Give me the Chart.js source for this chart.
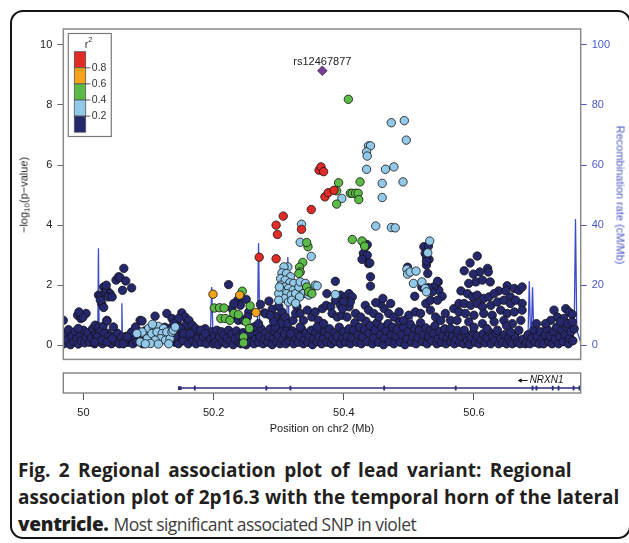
<!DOCTYPE html>
<html>
<head>
<meta charset="utf-8">
<script src="https://cdn.jsdelivr.net/npm/chart.js@4.4.1/dist/chart.umd.min.js"></script>
<style>
  body{margin:0;width:629px;height:543px;background:#fff;position:relative;overflow:hidden;font-family:"Liberation Sans",Arial,sans-serif}
  .frame{position:absolute;left:10px;top:10px;width:617px;height:525px;border:2.5px solid #141414;border-radius:13px}
  #main{position:absolute;left:0;top:0}
  #gene{position:absolute;left:0;top:362px}
  .ytitle{position:absolute;white-space:nowrap;font-size:11px;line-height:13px}
  .ytitle sub{font-size:8px;vertical-align:-2px;line-height:0}
  .left{left:24px;top:195px;color:#222;transform:translate(-50%,-50%) rotate(-90deg)}
  .right{left:620px;top:195px;color:#4b58c6;transform:translate(-50%,-50%) rotate(90deg)}
  .cap{position:absolute;left:18px;font-family:"Open Sans",sans-serif;font-size:19px;line-height:27px;white-space:nowrap;color:#231f20;font-weight:700}
  .l1{top:457px;word-spacing:3.5px}
  .l2{top:484px;word-spacing:0.5px}
  .l3{top:511px}
  .l3 b{letter-spacing:-0.3px}
  .cap span{font-weight:400;color:#3d3d3d;font-size:17.5px;letter-spacing:-0.55px}
</style>
</head>
<body>
<div class="frame"></div>
<canvas id="main" width="629" height="365"></canvas>
<canvas id="gene" width="629" height="78"></canvas>
<div class="ytitle left">&minus;log<sub>10</sub>(p&minus;value)</div>
<div class="ytitle right">Recombination rate (cM/Mb)</div>
<div class="cap l1">Fig. 2 Regional association plot of lead variant: Regional</div>
<div class="cap l2">association plot of 2p16.3 with the temporal horn of the lateral</div>
<div class="cap l3"><b>ventricle.</b> <span>Most significant associated SNP in violet</span></div>
<script>
// axis ranges / ticks
const xMin = 49.969, xMax = 50.764;
const xTicks = [50, 50.2, 50.4, 50.6];
const xTickLabels = ['50', '50.2', '50.4', '50.6'];
const yTicks = [0, 2, 4, 6, 8, 10];
const recombTicks = [0, 20, 40, 60, 80, 100];
const r2Breaks = ['0.8', '0.6', '0.4', '0.2'];

// lead SNP [Mb, -log10 p]
const leadName = 'rs12467877';
const leadSnp = [[50.367, 9.14]];

// r2 0.8-1
const r2Red = [[50.270,2.93],[50.296,2.88],[50.298,3.69],[50.296,4.0],[50.307,4.3],[50.335,3.86],[50.350,4.52],
  [50.362,5.83],[50.365,5.94],[50.369,5.78],[50.371,4.94],[50.376,5.08],[50.385,5.16]];

// r2 0.6-0.8
const r2Orange = [[50.199,1.7],[50.240,1.67],[50.265,1.09]];

// r2 0.4-0.6
const r2Green = [[50.407,8.19],
  [50.392,5.41],[50.389,5.14],[50.389,4.7],[50.425,5.44],[50.410,5.06],[50.413,5.06],[50.418,5.06],[50.422,5.06],[50.423,4.85],
  [50.413,3.52],[50.428,3.47],[50.432,3.3],
  [50.345,3.28],[50.343,3.42],[50.337,2.76],[50.332,2.6],[50.333,2.44],[50.331,2.39],[50.343,1.94],[50.346,1.78],[50.351,1.72],
  [50.201,1.24],[50.209,1.25],[50.216,1.24],[50.211,0.89],[50.218,0.89],[50.225,0.83],[50.231,1.06],[50.238,1.02],
  [50.244,1.8],[50.256,1.31],[50.250,0.78],[50.255,0.56],[50.246,0.28],[50.246,0.08]];

// r2 0.2-0.4
const r2Blue = [[50.473,7.41],[50.493,7.48],[50.496,6.83],[50.438,6.64],[50.441,6.64],[50.435,6.44],[50.436,6.3],[50.435,5.86],
  [50.464,5.86],[50.477,5.94],[50.459,5.39],[50.491,5.44],[50.459,4.92],[50.397,4.89],[50.449,3.97],[50.473,3.92],[50.479,3.91],
  [50.335,4.03],[50.333,3.43],[50.350,2.96],
  [50.532,3.47],[50.529,3.08],[50.497,2.53],[50.498,2.37],[50.502,2.44],[50.511,2.47],[50.507,2.06],[50.520,2.11],[50.525,1.89],[50.527,1.78],
  [50.387,1.69],
  [50.314,2.61],[50.308,2.61],[50.305,2.41],[50.312,2.39],[50.318,2.28],[50.303,2.22],[50.310,2.17],[50.317,2.08],[50.323,2.06],
  [50.303,2.0],[50.309,1.94],[50.315,1.89],[50.322,1.83],[50.305,1.78],[50.312,1.72],[50.319,1.67],[50.326,1.72],[50.308,1.56],
  [50.315,1.44],[50.331,1.94],[50.333,2.11],[50.341,2.06],[50.349,1.83],[50.356,2.0],[50.359,1.98],[50.338,1.72],[50.346,1.67],
  [50.332,1.61],[50.300,1.72],[50.301,1.94],[50.300,1.5],[50.320,1.5],[50.326,1.4],
  [50.092,0.39],[50.100,0.56],[50.108,0.61],[50.115,0.63],[50.123,0.56],[50.098,0.22],[50.105,0.39],[50.113,0.44],[50.121,0.39],
  [50.128,0.44],[50.118,0.22],[50.110,0.17],[50.126,0.17],[50.133,0.22],[50.103,0.06],[50.087,0.11],[50.136,0.44],[50.095,0.05],
  [50.115,0.04],[50.131,0.05],[50.106,0.7],[50.090,0.44],[50.082,0.39],[50.138,0.5],[50.141,0.61]];

// r2 < 0.2 : upper / middle points
const r2NavyUpper = [[49.969,0.83],[49.991,1.0],[49.996,0.89],[50.004,1.06],[49.999,0.93],[49.993,1.11],[49.992,0.56],
  [50.018,0.67],[50.023,0.61],[50.030,0.63],[50.036,0.83],[50.046,0.61],[50.025,0.44],[50.032,0.39],[50.038,0.28],[50.021,0.28],
  [50.028,0.17],[50.036,0.11],[50.044,0.22],[50.017,0.1],
  [50.023,1.67],[50.026,1.61],[50.031,1.94],[50.033,1.78],[50.036,1.83],[50.041,1.72],[50.038,1.61],[50.028,1.39],[50.031,1.26],
  [50.026,1.5],[50.035,2.0],[50.044,1.61],[50.036,0.81],
  [50.050,2.17],[50.054,2.28],[50.056,2.26],[50.062,2.56],[50.065,2.14],[50.060,1.83],[50.074,1.91],
  [50.059,0.28],[50.064,0.17],[50.061,0.05],
  [50.074,0.44],[50.080,0.61],[50.087,0.83],[50.090,0.81],[50.067,0.28],[50.110,0.97],[50.128,1.06],[50.136,0.89],[50.151,1.08],
  [50.156,0.94],[50.162,0.83],[50.167,0.67],[50.172,0.56],[50.144,0.72],[50.149,0.56],[50.154,0.39],[50.180,0.5],[50.187,0.39],
  [50.146,0.89],[50.139,0.72],[50.164,0.39],[50.141,0.28],
  [50.223,2.02],[50.250,1.53],[50.272,1.36],[50.285,1.47],[50.278,1.08],[50.254,1.11],[50.237,1.5],[50.241,1.33],[50.228,1.22],
  [50.231,0.94],[50.238,0.83],[50.246,0.83],[50.252,0.94],[50.262,0.61],[50.269,0.72],[50.255,0.39],[50.231,1.39],
  [50.298,0.94],[50.305,1.11],[50.310,0.94],[50.303,0.72],[50.314,0.72],[50.322,0.83],[50.328,1.28],[50.326,1.06],[50.333,1.06],
  [50.338,0.83],[50.344,1.17],[50.351,0.94],[50.356,1.11],[50.361,0.83],[50.367,1.22],[50.373,1.33],[50.380,1.28],[50.387,1.5],
  [50.395,1.33],[50.403,1.5],[50.408,1.28],[50.374,1.72],[50.387,2.13],[50.382,1.06],[50.390,0.94],[50.397,1.0],[50.405,0.94],
  [50.359,0.61],[50.369,0.72],[50.333,0.61],[50.318,0.39],[50.295,0.61],[50.280,1.05],
  [50.290,1.2],[50.295,0.95],[50.300,1.3],[50.292,0.8],[50.287,1.0],
  [50.395,1.67],[50.403,1.61],[50.408,1.72],[50.413,1.61],[50.410,1.44],[50.400,1.44],[50.398,1.22],[50.418,1.06],[50.426,0.94],
  [50.433,1.33],[50.438,1.17],[50.446,1.06],[50.454,0.94],[50.462,1.22],[50.456,1.39],[50.449,1.42],[50.460,1.56],[50.472,1.39],
  [50.469,1.06],[50.477,0.94],[50.485,1.11],[50.492,0.83],[50.500,1.0],[50.509,1.63],[50.510,1.11],[50.518,1.06],[50.526,1.39],
  [50.533,1.17],[50.541,0.94],[50.549,0.83],[50.556,1.06],[50.564,0.83],[50.569,1.22],[50.577,1.39],[50.574,0.5],
  [50.433,3.28],[50.430,3.06],[50.436,3.0],[50.428,2.86],[50.438,2.72],[50.441,2.28],[50.441,1.97],[50.431,3.39],[50.436,3.35],[50.440,2.74],
  [50.523,3.28],[50.525,3.06],[50.531,2.86],[50.527,2.67],[50.529,2.39],[50.545,2.11],[50.546,1.83],[50.551,1.63],[50.538,1.94],
  [50.536,1.78],[50.533,1.5],[50.544,1.5],[50.530,3.3],[50.527,2.94],[50.527,2.8],[50.498,2.6],[50.520,1.93],[50.530,1.92],[50.544,2.13],
  [50.605,2.97],[50.594,2.74],[50.585,2.48],[50.621,2.56],[50.622,2.44],[50.609,2.44],[50.599,2.37],[50.603,2.11],[50.613,2.17],
  [50.625,2.11],[50.592,2.06],[50.580,1.81],[50.651,1.98],[50.662,1.89],[50.638,1.81],[50.669,1.83],[50.674,1.94],[50.649,1.81],[50.656,1.61],
  [50.590,1.72],[50.598,1.61],[50.605,1.67],[50.615,1.56],[50.623,1.61],[50.631,1.72],[50.585,1.39],[50.595,1.33],[50.605,1.39],
  [50.613,1.28],[50.626,1.33],[50.636,1.44],[50.646,1.5],[50.656,1.39],[50.664,1.5],[50.674,1.39],[50.577,1.11],[50.587,1.06],
  [50.600,1.0],[50.615,1.06],[50.628,1.0],[50.641,1.17],[50.651,1.06],[50.662,1.11],[50.674,1.17],[50.574,0.83],[50.592,0.78],
  [50.613,0.72],[50.631,0.78],[50.646,0.83],[50.659,0.72],[50.672,0.83],[50.564,0.56],[50.585,0.5],[50.636,0.5],[50.656,0.44],
  [50.669,0.5],[50.600,0.6],[50.620,0.55],[50.650,0.65],
  [50.723,1.17],[50.741,1.22],[50.746,1.11],[50.751,1.03],[50.728,0.94],[50.738,0.89],[50.718,0.83],[50.696,0.72],[50.710,0.72],
  [50.733,0.78],[50.744,0.72],[50.751,0.78]];

// r2 < 0.2 : dense band near zero
const r2NavyBase = [[49.970,0.05],[49.971,0.38],[49.975,0.18],[49.977,0.52],[49.980,0.02],[49.982,0.3],[49.985,0.12],[49.987,0.45],
  [49.990,0.22],[49.992,0.04],[49.995,0.35],[49.997,0.15],[50.000,0.5],[50.002,0.08],[50.004,0.28],[50.007,0.42],[50.009,0.1],
  [50.012,0.25],[50.014,0.55],[50.017,0.05],[50.019,0.35],[50.021,0.15],[50.024,0.45],[50.026,0.2],
  [50.029,0.05],[50.031,0.3],[50.034,0.12],[50.037,0.4],[50.040,0.2],[50.043,0.05],[50.046,0.3],[50.049,0.12],[50.052,0.4],
  [50.055,0.05],[50.063,0.08],[50.066,0.3],[50.069,0.1],[50.072,0.22],
  [50.076,0.05],[50.079,0.3],[50.082,0.12],[50.085,0.45],[50.088,0.2],[50.091,0.05],[50.096,0.5],[50.101,0.3],[50.107,0.45],
  [50.112,0.55],[50.119,0.5],[50.125,0.6],[50.131,0.55],[50.138,0.3],[50.141,0.1],[50.144,0.45],
  [50.146,0.05],[50.148,0.3],[50.151,0.55],[50.153,0.15],[50.156,0.4],[50.158,0.7],[50.161,0.05],[50.163,0.3],[50.166,0.5],
  [50.168,0.15],[50.171,0.35],[50.173,0.05],[50.176,0.25],[50.179,0.45],[50.181,0.1],[50.184,0.3],[50.187,0.55],[50.189,0.05],
  [50.192,0.35],[50.195,0.2],[50.197,0.45],[50.199,0.05],
  [50.201,0.3],[50.203,0.1],[50.205,0.5],[50.207,0.02],[50.209,0.28],[50.212,0.45],[50.214,0.12],[50.216,0.35],[50.219,0.05],
  [50.221,0.25],[50.223,0.5],[50.226,0.15],[50.228,0.38],[50.230,0.02],[50.233,0.22],[50.235,0.48],[50.238,0.1],[50.240,0.32],
  [50.242,0.05],[50.245,0.42],[50.247,0.18],[50.250,0.02],[50.252,0.3],[50.255,0.5],[50.257,0.12],[50.259,0.35],[50.262,0.05],
  [50.264,0.25],[50.266,0.45],[50.269,0.1],
  [50.271,0.3],[50.273,0.55],[50.276,0.05],[50.278,0.2],[50.280,0.42],[50.283,0.1],[50.285,0.3],[50.287,0.55],[50.290,0.02],
  [50.292,0.25],[50.294,0.45],[50.297,0.12],[50.299,0.35],[50.302,0.05],[50.304,0.5],[50.306,0.2],[50.309,0.38],[50.311,0.05],
  [50.313,0.6],[50.316,0.15],[50.318,0.3],[50.321,0.48],[50.323,0.05],[50.325,0.25],[50.328,0.42],[50.330,0.1],[50.333,0.3],
  [50.335,0.55],[50.338,0.05],[50.340,0.2],[50.342,0.4],[50.345,0.1],[50.347,0.3],[50.350,0.5],[50.352,0.02],[50.354,0.22],
  [50.357,0.42],[50.359,0.12],[50.362,0.3],[50.364,0.52],[50.366,0.05],[50.369,0.25],[50.371,0.45],[50.374,0.1],[50.376,0.35],
  [50.378,0.55],[50.381,0.05],[50.383,0.2],[50.386,0.42],[50.388,0.12],[50.390,0.3],[50.393,0.6],[50.395,0.05],[50.398,0.25],
  [50.400,0.45],[50.403,0.1],[50.405,0.3],[50.408,0.55],
  [50.410,0.05],[50.412,0.25],[50.415,0.5],[50.417,0.75],[50.420,0.1],[50.422,0.35],[50.424,0.6],[50.427,0.05],[50.429,0.28],
  [50.432,0.52],[50.434,0.8],[50.436,0.12],[50.439,0.4],[50.441,0.65],[50.444,0.05],[50.446,0.25],[50.448,0.5],[50.451,0.75],
  [50.453,0.1],[50.456,0.35],[50.458,0.6],[50.461,0.02],[50.463,0.25],[50.465,0.48],[50.468,0.72],[50.470,0.12],[50.473,0.35],
  [50.475,0.6],[50.477,0.05],[50.480,0.3],[50.482,0.52],[50.485,0.8],[50.487,0.1],[50.489,0.35],[50.492,0.6],[50.494,0.02],
  [50.497,0.22],[50.499,0.45],[50.502,0.7],[50.504,0.1],[50.506,0.32],[50.509,0.55],[50.511,0.05],[50.514,0.25],[50.516,0.5],
  [50.518,0.75],[50.521,0.12],[50.523,0.35],[50.526,0.58],[50.528,0.05],[50.530,0.28],[50.533,0.5],[50.535,0.15],[50.538,0.4],
  [50.540,0.65],[50.543,0.05],[50.545,0.22],[50.547,0.45],[50.550,0.1],[50.552,0.3],[50.555,0.55],[50.557,0.05],[50.559,0.25],
  [50.562,0.4],[50.564,0.12],
  [50.567,0.3],[50.570,0.05],[50.572,0.2],[50.575,0.4],[50.578,0.1],[50.581,0.28],[50.584,0.05],[50.587,0.35],[50.590,0.15],
  [50.593,0.02],[50.596,0.25],[50.599,0.42],[50.602,0.1],[50.605,0.3],[50.608,0.05],[50.611,0.2],[50.614,0.38],[50.617,0.08],
  [50.620,0.25],[50.623,0.45],[50.626,0.05],[50.629,0.3],[50.632,0.15],[50.635,0.4],[50.638,0.05],[50.641,0.22],[50.644,0.1],
  [50.647,0.35],[50.650,0.05],[50.653,0.25],[50.656,0.12],[50.659,0.05],[50.663,0.3],[50.667,0.1],[50.671,0.05],[50.675,0.2],[50.679,0.05],
  [50.681,0.1],[50.683,0.35],[50.686,0.05],[50.689,0.25],[50.692,0.5],[50.694,0.1],[50.697,0.3],[50.700,0.05],[50.702,0.45],
  [50.705,0.2],[50.707,0.05],[50.710,0.35],[50.712,0.55],[50.715,0.12],[50.717,0.3],[50.720,0.05],[50.722,0.45],[50.725,0.2],
  [50.727,0.6],[50.730,0.05],[50.732,0.3],[50.735,0.5],[50.737,0.12],[50.740,0.35],[50.742,0.6],[50.745,0.05],[50.747,0.25],
  [50.749,0.45],[50.752,0.15],[50.754,0.55]];

// recombination rate (cM/Mb)
const recombPos  = [49.969,49.990,50.020,50.022,50.023,50.024,50.026,50.045,50.058,50.059,50.060,50.090,50.150,50.168,50.172,50.176,
  50.185,50.195,50.197,50.199,50.205,50.240,50.267,50.269,50.271,50.290,50.312,50.314,50.316,50.340,50.370,50.372,50.374,50.440,
  50.503,50.505,50.507,50.560,50.600,50.650,50.683,50.685,50.687,50.688,50.690,50.692,50.700,50.750,50.754,50.756,50.758,50.764];
const recombRate = [0.6,0.7,0.8,5,32.3,5,1.0,1.0,1.2,14,1.2,0.8,1.0,1.2,2.8,1.2,
  0.9,3,19.4,3,0.9,0.8,2,34,2,0.9,2,29.4,2,0.9,1.2,5,1.2,1.0,
  1.0,9,1.0,0.8,1.2,0.8,2,21.3,3,2,19.3,2,0.9,0.9,5,42,5,1.0];

// gene NRXN1 (Mb)
const geneName = 'NRXN1';
const geneStart = 50.148, geneEnd = 50.764;
const geneExons = [50.171,50.281,50.318,50.462,50.572,50.690,50.696,50.721,50.730,50.753,50.762];
const geneLabelPos = 50.684;

const navy = '#26286e', lightBlue = '#92c9e9', green = '#5cba47', orange = '#f6a31c', red = '#e02b27', violet = '#7b3a9e';
const recombBlue = '#3b4cc4', axisBlue = '#4b58c6';

Chart.defaults.font.family = '"Liberation Sans", Arial, sans-serif';
Chart.defaults.font.size = 11;

const pts = arr => arr.map(([x, y]) => ({x, y}));
const snpSet = (data, color, order) => ({data: pts(data), backgroundColor: color, borderColor: 'rgba(20,20,20,0.9)',
  borderWidth: 0.9, pointRadius: 4.2, order});
// keep the plot box where the picture has it, tick labels may hang out
const fixWidth = w => s => { s.width = w; s.paddingTop = 0; s.paddingBottom = 0; };

const mainDecor = {
  id: 'mainDecor',
  afterDatasetsDraw(chart) {
    const {ctx, chartArea: a, scales} = chart;
    ctx.save();
    ctx.strokeStyle = '#8a8a8a'; ctx.lineWidth = 1.5;
    ctx.strokeRect(a.left, a.top, a.right - a.left, a.bottom - a.top);
    // lead snp name
    const lx = scales.x.getPixelForValue(leadSnp[0][0]), ly = scales.y.getPixelForValue(leadSnp[0][1]);
    ctx.fillStyle = '#222'; ctx.font = '11px "Liberation Sans", Arial'; ctx.textAlign = 'center'; ctx.textBaseline = 'alphabetic';
    ctx.fillText(leadName, lx, ly - 6);
    // r2 key
    const bx = a.left + 5, by = a.top + 4.5;
    ctx.strokeStyle = '#7a7a7a'; ctx.lineWidth = 1.2;
    ctx.strokeRect(bx, by, 43, 103);
    const cols = [red, orange, green, lightBlue, navy];
    const cx = a.left + 11, cy = a.top + 22.7, seg = 16.1;
    cols.forEach((c, i) => {
      ctx.fillStyle = c; ctx.fillRect(cx, cy + i * seg, 11.4, seg);
      ctx.strokeStyle = '#555'; ctx.lineWidth = 0.8; ctx.strokeRect(cx, cy + i * seg, 11.4, seg);
    });
    ctx.fillStyle = '#333'; ctx.textAlign = 'left'; ctx.textBaseline = 'middle'; ctx.font = '10.5px "Liberation Sans", Arial';
    r2Breaks.forEach((t, i) => {
      const yy = cy + (i + 1) * seg;
      ctx.beginPath(); ctx.moveTo(cx + 11.4, yy); ctx.lineTo(cx + 16, yy); ctx.strokeStyle = '#555'; ctx.lineWidth = 1; ctx.stroke();
      ctx.fillText(t, cx + 17.5, yy);
    });
    ctx.textBaseline = 'alphabetic'; ctx.font = '11px "Liberation Sans", Arial';
    ctx.fillText('r', a.left + 21.5, a.top + 19);
    ctx.font = '7.5px "Liberation Sans", Arial';
    ctx.fillText('2', a.left + 25, a.top + 13);
    ctx.restore();
  }
};

new Chart(document.getElementById('main'), {
  type: 'scatter',
  data: {datasets: [
    {data: pts(leadSnp), pointStyle: 'rectRot', pointRadius: 4.8, backgroundColor: violet, borderColor: '#333', borderWidth: 0.8, order: 0},
    snpSet(r2Red, red, 1),
    snpSet(r2Orange, orange, 2),
    snpSet(r2Green, green, 3),
    snpSet(r2Blue, lightBlue, 4),
    snpSet(r2NavyUpper, navy, 5),
    snpSet(r2NavyBase, navy, 6),
    {type: 'line', yAxisID: 'y2', data: recombPos.map((x, i) => ({x, y: recombRate[i]})), borderColor: recombBlue,
      borderWidth: 1.3, pointRadius: 0, tension: 0, order: 9}
  ]},
  options: {
    responsive: false, animation: false, events: [],
    layout: {padding: {top: 29, bottom: 5}},
    plugins: {legend: {display: false}, tooltip: {enabled: false}},
    scales: {
      x: {type: 'linear', display: false, min: xMin, max: xMax},
      y: {position: 'left', min: -0.47, max: 10.53,
        afterFit: fixWidth(63.3),
        afterBuildTicks(s) { s.ticks = yTicks.map(v => ({value: v})); },
        grid: {drawOnChartArea: false, tickLength: 6, color: '#666'}, border: {display: false},
        ticks: {color: '#222', padding: 5, callback: v => String(v)}},
      y2: {position: 'right', min: -4.7, max: 105.3,
        afterFit: fixWidth(48.3),
        afterBuildTicks(s) { s.ticks = recombTicks.map(v => ({value: v})); },
        grid: {drawOnChartArea: false, tickLength: 6, color: axisBlue}, border: {display: false},
        ticks: {color: axisBlue, padding: 5, callback: v => String(v)}}
    }
  },
  plugins: [mainDecor]
});

const geneDecor = {
  id: 'geneDecor',
  afterDraw(chart) {
    const {ctx, chartArea: a, scales} = chart;
    ctx.save();
    ctx.strokeStyle = '#7a7a7a'; ctx.lineWidth = 1.3;
    ctx.strokeRect(a.left, a.top, a.right - a.left, a.bottom - a.top);
    const gx = scales.x.getPixelForValue(geneLabelPos), gy = scales.y.getPixelForValue(0.5);
    ctx.fillStyle = '#111'; ctx.font = 'italic 10px "Liberation Sans", Arial'; ctx.textAlign = 'left'; ctx.textBaseline = 'middle';
    ctx.fillText(geneName, gx + 1, gy);
    ctx.strokeStyle = '#111'; ctx.lineWidth = 1;
    ctx.beginPath(); ctx.moveTo(gx - 1, gy); ctx.lineTo(gx - 10, gy); ctx.stroke();
    ctx.beginPath(); ctx.moveTo(gx - 11, gy); ctx.lineTo(gx - 7, gy - 2.2); ctx.lineTo(gx - 7, gy + 2.2); ctx.closePath(); ctx.fill();
    ctx.restore();
  }
};

new Chart(document.getElementById('gene'), {
  type: 'scatter',
  data: {datasets: [
    {type: 'line', data: [{x: geneStart, y: 0}, {x: geneEnd, y: 0}], borderColor: '#2b2d7c', borderWidth: 1.6, pointRadius: 0},
    {data: geneExons.map(x => ({x, y: 0})), pointStyle: 'line', rotation: 90, pointRadius: 2.4, borderColor: '#2b2d7c', borderWidth: 1.8},
    {data: [{x: geneStart, y: 0}], pointStyle: 'rect', pointRadius: 2.6, backgroundColor: '#2b2d7c', borderColor: '#2b2d7c', borderWidth: 0}
  ]},
  options: {
    responsive: false, animation: false, events: [],
    layout: {padding: {top: 11, left: 63.3, right: 48.3}},
    plugins: {legend: {display: false}, tooltip: {enabled: false}},
    scales: {
      x: {type: 'linear', min: xMin, max: xMax,
        afterFit(s) { s.height = 47; },
        afterBuildTicks(s) { s.ticks = xTicks.map(v => ({value: v})); },
        grid: {drawOnChartArea: false, tickLength: 7, color: '#555'}, border: {display: false},
        ticks: {color: '#222', padding: 6, maxRotation: 0, callback: (v, i) => xTickLabels[i]},
        title: {display: true, text: 'Position on chr2 (Mb)', color: '#222', font: {size: 11}, padding: {top: 4, bottom: 4}}},
      y: {display: false, min: -0.33, max: 1}
    }
  },
  plugins: [geneDecor]
});
</script>
</body>
</html>
